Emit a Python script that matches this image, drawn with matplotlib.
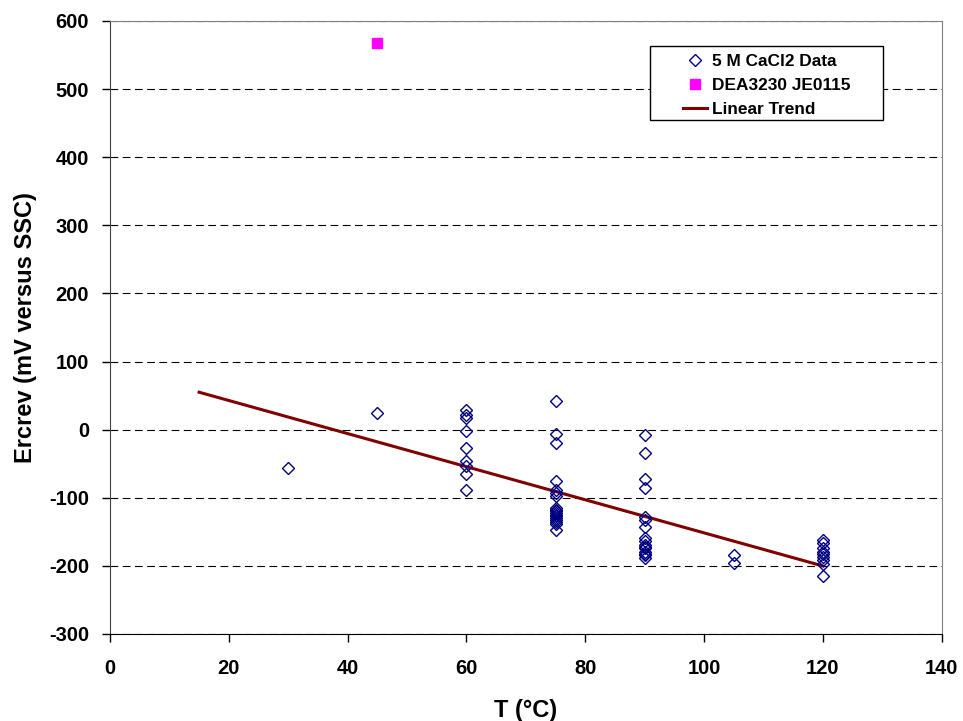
import numpy as np
import matplotlib
matplotlib.use("Agg")
import matplotlib.pyplot as plt
from matplotlib.patches import Rectangle

plt.rcParams['font.family'] = ['Liberation Sans', 'DejaVu Sans']
plt.rcParams['font.weight'] = 'bold'
plt.rcParams['axes.unicode_minus'] = False

# 5 M CaCl2 data (T in degC, Ercrev in mV vs SSC)
t_30 = [30]
e_30 = [-57]
t_45 = [45]
e_45 = [24]
t_60 = [60] * 9
e_60 = [29, 21, 17, -2, -27, -46, -54, -65, -88]
t_75 = [75] * 18
e_75 = [42, -6, -19, -76, -88, -93, -97, -115, -118, -120, -123, -125,
        -127, -130, -132, -135, -139, -147]
t_90 = [90] * 16
e_90 = [-8, -35, -73, -86, -128, -132, -143, -159, -164, -169, -172,
        -174, -179, -182, -184, -188]
t_105 = [105] * 2
e_105 = [-184, -196]
t_120 = [120] * 9
e_120 = [-162, -166, -174, -179, -183, -187, -192, -197, -215]

data_t = t_30 + t_45 + t_60 + t_75 + t_90 + t_105 + t_120
data_e = e_30 + e_45 + e_60 + e_75 + e_90 + e_105 + e_120

# single DEA3230 JE0115 point
dea_t = [45]
dea_e = [568]

# linear trend
trend_slope = -2.43
trend_icpt = 91.4
trend_range = [15, 120]

fig = plt.figure(figsize=(9.63, 7.21), dpi=100)
ax = fig.add_axes([0.1142, 0.1207, 0.8638, 0.8502])

ax.plot(data_t, data_e, linestyle='none', marker='D', markersize=6,
        markerfacecolor='none', markeredgecolor='#000080', markeredgewidth=1.0,
        label='5 M CaCl2 Data', zorder=3)
ax.plot(dea_t, dea_e, linestyle='none', marker='s', markersize=7,
        color='#FF00FF', label='DEA3230 JE0115', zorder=3)
tx = np.array(trend_range)
ax.plot(tx, trend_slope * tx + trend_icpt, color='#800000', linewidth=2.2,
        label='Linear Trend', zorder=2)

ax.set_xlim(0, 140)
ax.set_ylim(-300, 600)
ax.set_xticks(np.arange(0, 141, 20))
ax.set_yticks(np.arange(-300, 601, 100))
ax.yaxis.grid(True, linestyle=(0, (7, 4)), color='black', linewidth=0.8)
ax.set_axisbelow(True)

for s in ['top', 'right']:
    ax.spines[s].set_color('#808080')
    ax.spines[s].set_linewidth(0.8)
ax.spines['left'].set_color('#404040')
ax.spines['bottom'].set_color('black')

ax.tick_params(axis='both', direction='out', length=6, width=1,
               labelsize=14.5)
ax.tick_params(axis='y', pad=9)
ax.tick_params(axis='x', pad=12)
for lab in ax.get_xticklabels() + ax.get_yticklabels():
    lab.set_fontweight('bold')

ax.set_xlabel('T (°C)', fontsize=17, fontweight='bold', labelpad=15)
ax.set_ylabel('Ercrev (mV versus SSC)', fontsize=17, fontweight='bold', labelpad=9)

# legend box drawn separately so the entries can sit indented like the original
ax.add_patch(Rectangle((0.649, 0.8385), 0.280, 0.1205, transform=ax.transAxes,
                       facecolor='white', edgecolor='black', linewidth=1.0,
                       zorder=4, clip_on=False))
leg = ax.legend(loc='upper left', bbox_to_anchor=(0.689, 0.946),
                prop={'size': 12.4, 'weight': 'bold'}, frameon=False,
                handlelength=1.4, handletextpad=0.3, borderpad=0,
                borderaxespad=0, labelspacing=0.52)
leg.set_zorder(5)

fig.savefig('out.png', dpi=100)
